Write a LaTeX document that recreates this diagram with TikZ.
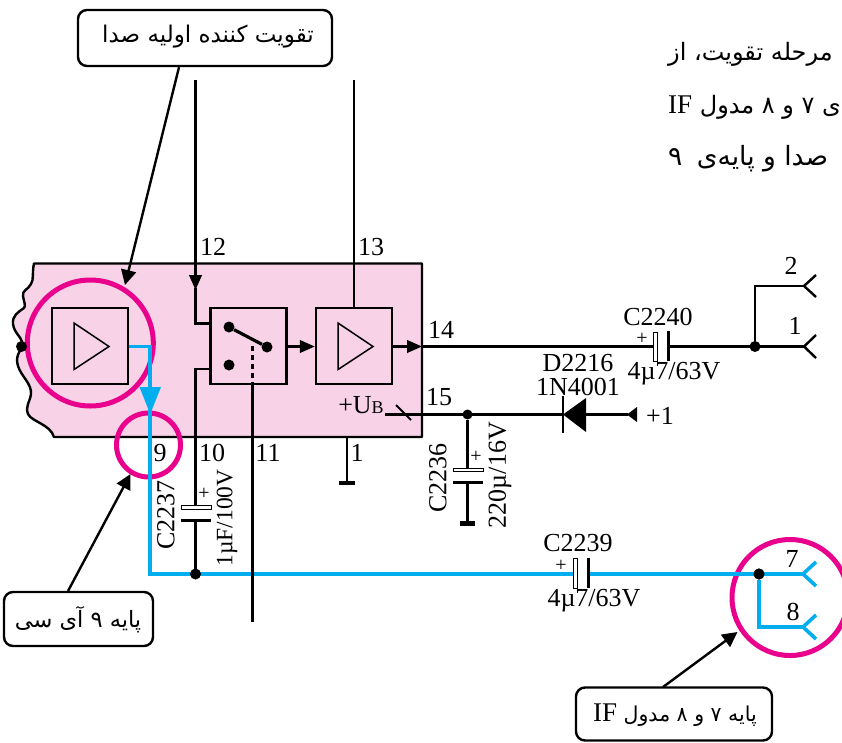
\documentclass[tikz,border=0pt]{standalone}
\usepackage{fontspec}
\setmainfont{Liberation Serif}
\newfontfamily\fa[Script=Arabic]{DejaVu Sans}
\TeXXeTstate=1
\usetikzlibrary{arrows.meta}
\definecolor{icpink}{RGB}{248,210,230}
\definecolor{mag}{RGB}{233,0,140}
\definecolor{wireblue}{RGB}{0,174,239}
\tikzset{
  wire/.style={draw=black,line width=2.4pt},
  blue wire/.style={draw=wireblue,line width=3.6pt},
  ampbox/.style={draw=black,line width=2.4pt,fill=icpink,minimum width=76pt,minimum height=76pt,inner sep=0pt},
  ampsym/.style={draw=black,line width=1.5pt,line join=miter},
  ring/.style={draw=mag,line width=5pt,circle,inner sep=0pt},
  dot/.style={circle,fill=black,inner sep=0pt,minimum size=11pt},
  lab/.style={inner sep=0pt,font=\fontsize{26}{26}\selectfont},
  callout/.style={draw=black,line width=2.4pt,rounded corners=9pt,fill=white,inner sep=0pt},
  farsi/.style={inner sep=0pt,font=\fa\fontsize{23}{23}\selectfont},
  top text/.style={inner sep=0pt,anchor=base west,font=\fa\fontsize{24}{24}\selectfont},
  pointer/.style={draw=black,line width=2.4pt,-{Triangle[length=15pt,width=15pt]}},
  intip/.style={-{Triangle[length=15pt,width=12.5pt]}},
  hollow plate/.style={draw=black,line width=1pt,fill=white},
  solid plate/.style={draw=black,line width=3pt},
  plus/.style={inner sep=0pt,font=\fontsize{20}{20}\selectfont},
}
\begin{document}
\begin{tikzpicture}[x=1pt,y=-1pt]
\useasboundingbox (0,0) rectangle (842,742);
\fill[white] (0,0) rectangle (842,742);
% IC body
\draw[black,line width=2.4pt,fill=icpink,line join=round]
  (422,263.5) -- (34,263.5) .. controls (32,272) and (34,280) .. (31,284)
  .. controls (28,290) and (22,290) .. (23,296) .. controls (24,302) and (26,306) .. (24,308)
  .. controls (18,312) and (12,316) .. (13,324) .. controls (14,334) and (24,338) .. (22,346)
  .. controls (20,352) and (15,356) .. (18,366) .. controls (21,376) and (32,384) .. (31,394)
  .. controls (30,402) and (25,406) .. (28,414) .. controls (32,422) and (50,424) .. (54,437)
  -- (422,437) -- cycle;
% Rings
\node[ring,minimum size=126pt] (ringamp) at (90.3,343) {};
\node[ring,minimum size=64pt] (ringnine) at (148.5,445) {};
\node[ring,minimum size=116pt] (ringif) at (790,597.5) {};
% Blocks
\node[ampbox] (amp1) at (90,346) {};
\node[ampbox] (switch) at (248.5,346) {};
\node[ampbox] (amp2) at (354,346) {};
\draw[ampsym] (74,323) -- (74,369.5) -- (109,346.5) -- cycle;
\draw[ampsym] (338,323) -- (338,369.5) -- (373,346.5) -- cycle;
% Switch contents
\node[dot] (swa) at (229,327) {};
\node[dot] (swb) at (267,347) {};
\node[dot] (swc) at (229,365) {};
\draw[black,line width=3.2pt] (swa) -- (swb);
\draw[black,line width=2.2pt,dash pattern=on 5pt off 4pt] (252.5,346) -- (252.5,384);
% Coordinates
\coordinate (top12) at (195.5,80);
\coordinate (pin12) at (195.5,323.5);
\coordinate (sw12) at (210.5,323.5);
\coordinate (pin10) at (195.5,369);
\coordinate (sw10) at (210.5,369);
\coordinate (top13) at (354,80);
\coordinate (c37top) at (195.5,505);
\coordinate (c37bot) at (195.5,521);
\coordinate (bend) at (150,574);
\coordinate (corner) at (150,346.5);
\coordinate (c39l) at (575,574);
\coordinate (c39r) at (588,574);
\coordinate (c40l) at (655,346.5);
\coordinate (c40r) at (668,346.5);
\coordinate (p14) at (422,346.5);
\coordinate (end11) at (252.5,622);
% Blue signal path
\draw[blue wire,line join=miter] (amp1.east |- corner) -- (corner) -- (bend) -- (c39l);
\fill[wireblue] (139.5,387) -- (161,387) -- (150.2,414) -- cycle;
\node[dot] (j7) at (759,574) {};
\coordinate (f7) at (803,574);
\coordinate (f8) at (803,627);
\coordinate (f8c) at (759,627);
\draw[blue wire] (c39r) -- (f7);
\draw[blue wire,line join=miter] (j7) -- (f8c) -- (f8);
\draw[blue wire,line join=miter] (816,562) -- (f7) -- (816,586);
\draw[blue wire,line join=miter] (816,615) -- (f8) -- (816,639);
\node[dot] (j7b) at (759,574) {};
% Black wires
\draw[wire,intip] (top12) -- (195.5,290);
\draw[wire] (195.5,288) -- (pin12) -- (sw12);
\draw[wire] (sw10) -- (pin10) -- (c37top);
\draw[wire] (c37bot) -- (195.5,574);
\node[dot] (j37) at (195.5,574) {};
\draw[wire] (252.5,384) -- (end11);
\draw[wire,intip] (switch.east |- corner) -- (amp2.west |- corner);
\draw[wire] (top13) -- (amp2.north);
\draw[wire,intip] (amp2.east |- corner) -- (p14);
\draw[wire] (p14) -- (c40l);
\node[dot] (j1) at (755,346.5) {};
\coordinate (f1) at (804,346.5);
\coordinate (f2) at (804,286);
\coordinate (f2c) at (755,286);
\draw[wire] (c40r) -- (f1);
\draw[wire,line join=miter] (j1) -- (f2c) -- (f2);
\draw[wire,line join=miter] (816,275) -- (f2) -- (816,297);
\draw[wire,line join=miter] (816,335) -- (f1) -- (816,358);
% Caps
\draw[hollow plate] (181,505) rectangle (211,509);
\draw[solid plate] (181,520.5) -- (211,520.5);
\draw[hollow plate] (653,332) rectangle (657,361);
\draw[solid plate] (668,331) -- (668,361);
\draw[hollow plate] (573.5,558) rectangle (577.5,588);
\draw[solid plate] (588,558) -- (588,588);
\draw[hollow plate] (453,468) rectangle (483,471);
\draw[solid plate] (453,482.5) -- (483,482.5);
% Supply
\node[dot,minimum size=10pt] (j15) at (467.5,414.5) {};
\coordinate (da) at (563,414.5);
\coordinate (dc) at (586,414.5);
\coordinate (s1) at (628,414.5);
\coordinate (ub) at (385,414.5);
\draw[wire] (ub) -- (da);
\draw[black,line width=2pt] (396,405) -- (411,420);
\draw[wire] (dc) -- (s1);
\fill[black] (563,414.5) -- (586,398) -- (586,432) -- cycle;
\draw[black,line width=2.4pt] (563,396) -- (563,433);
\fill[black] (627,414.5) -- (637,407) -- (637,422) -- cycle;
\draw[wire] (j15) -- (467.5,468);
\draw[wire] (467.5,482) -- (467.5,523);
\draw[black,line width=5pt] (460,523.5) -- (475,523.5);
% Pin 1 ground
\draw[wire] (347,437) -- (347,483);
\draw[black,line width=3.5pt] (339,483) -- (355,483);
% Left dot
\node[dot] (ldot) at (21.5,346.5) {};
% Labels
\node[lab] (l12) at (213,247) {12};
\node[lab] (l13) at (371,247) {13};
\node[lab] (l14) at (441,330) {14};
\node[lab] (l15) at (439,397) {15};
\node[lab] (l9) at (160,453) {9};
\node[lab] (l10) at (212,453) {10};
\node[lab] (l11) at (268,453) {11};
\node[lab] (lone) at (357,453) {1};
\node[lab] (ltwo) at (791,266) {2};
\node[lab] (lonet) at (795,326) {1};
\node[lab] (lseven) at (792,559) {7};
\node[lab] (leight) at (793,612) {8};
\node[lab] (c2240) at (658,317) {C2240};
\node[plus] (p2240) at (642,339) {+};
\node[lab] (v2240) at (674,374) {4µ7/63V};
\node[lab] (d2216) at (578,363) {D2216};
\node[lab] (n4001) at (578,387) {1N4001};
\node[lab] (c2239) at (578,543) {C2239};
\node[plus] (p2239) at (561,566) {+};
\node[lab] (v2239) at (594,601) {4µ7/63V};
\node[lab,rotate=90] (c2237) at (166,515) {C2237};
\node[lab,rotate=90,font=\fontsize{23.5}{23.5}\selectfont] (v2237) at (227,518) {1µF/100V};
\node[plus] (p2237) at (204,494) {+};
\node[lab,rotate=90] (c2236) at (438,478) {C2236};
\node[lab,rotate=90] (v2236) at (500,475) {220µ/16V};
\node[plus] (p2236) at (476,457) {+};
\node[lab] (ubt) at (361,405) {+U{\fontsize{18}{18}\selectfont B}};
\node[lab] (plusone) at (660,416) {+1};
% Callouts
\node[callout,minimum width=254pt,minimum height=56pt] (co1) at (205,38) {};
\node[farsi] (co1t) at (208,37) {\beginR تقویت کننده اولیه صدا\endR};
\node[callout,minimum width=149pt,minimum height=54pt] (co2) at (78.5,619) {};
\node[farsi,font=\fa\fontsize{22.5}{22.5}\selectfont] (co2t) at (78,620) {\beginR پایه ۹ آی سی\endR};
\node[callout,minimum width=196pt,minimum height=53pt] (co3) at (674,714) {};
\node[farsi,font=\fa\fontsize{20.5}{20.5}\selectfont] (co3t) at (675,715) {\beginR پایه ۷ و ۸ مدول \beginL{\rmfamily\fontsize{27}{27}\selectfont IF}\endL\endR};
\draw[pointer] (co1.south -| 179,0) -- (125,285);
\draw[pointer] (68,591) -- (130.5,474);
\draw[pointer] (663,687) -- (737.5,632);
% Top right text
\node[top text] (t1) at (668,60) {\beginR مرحله تقویت، از\endR};
\node[top text] (t2) at (668,113) {\beginR ی ۷ و ۸ مدول \beginL{\rmfamily\fontsize{27}{27}\selectfont IF}\endL\endR};
\node[top text,font=\fa\fontsize{26.5}{26.5}\selectfont] (t3) at (668,165) {\beginR صدا و پایه‌ی \hspace{6pt}۹\endR};
\end{tikzpicture}
\end{document}
